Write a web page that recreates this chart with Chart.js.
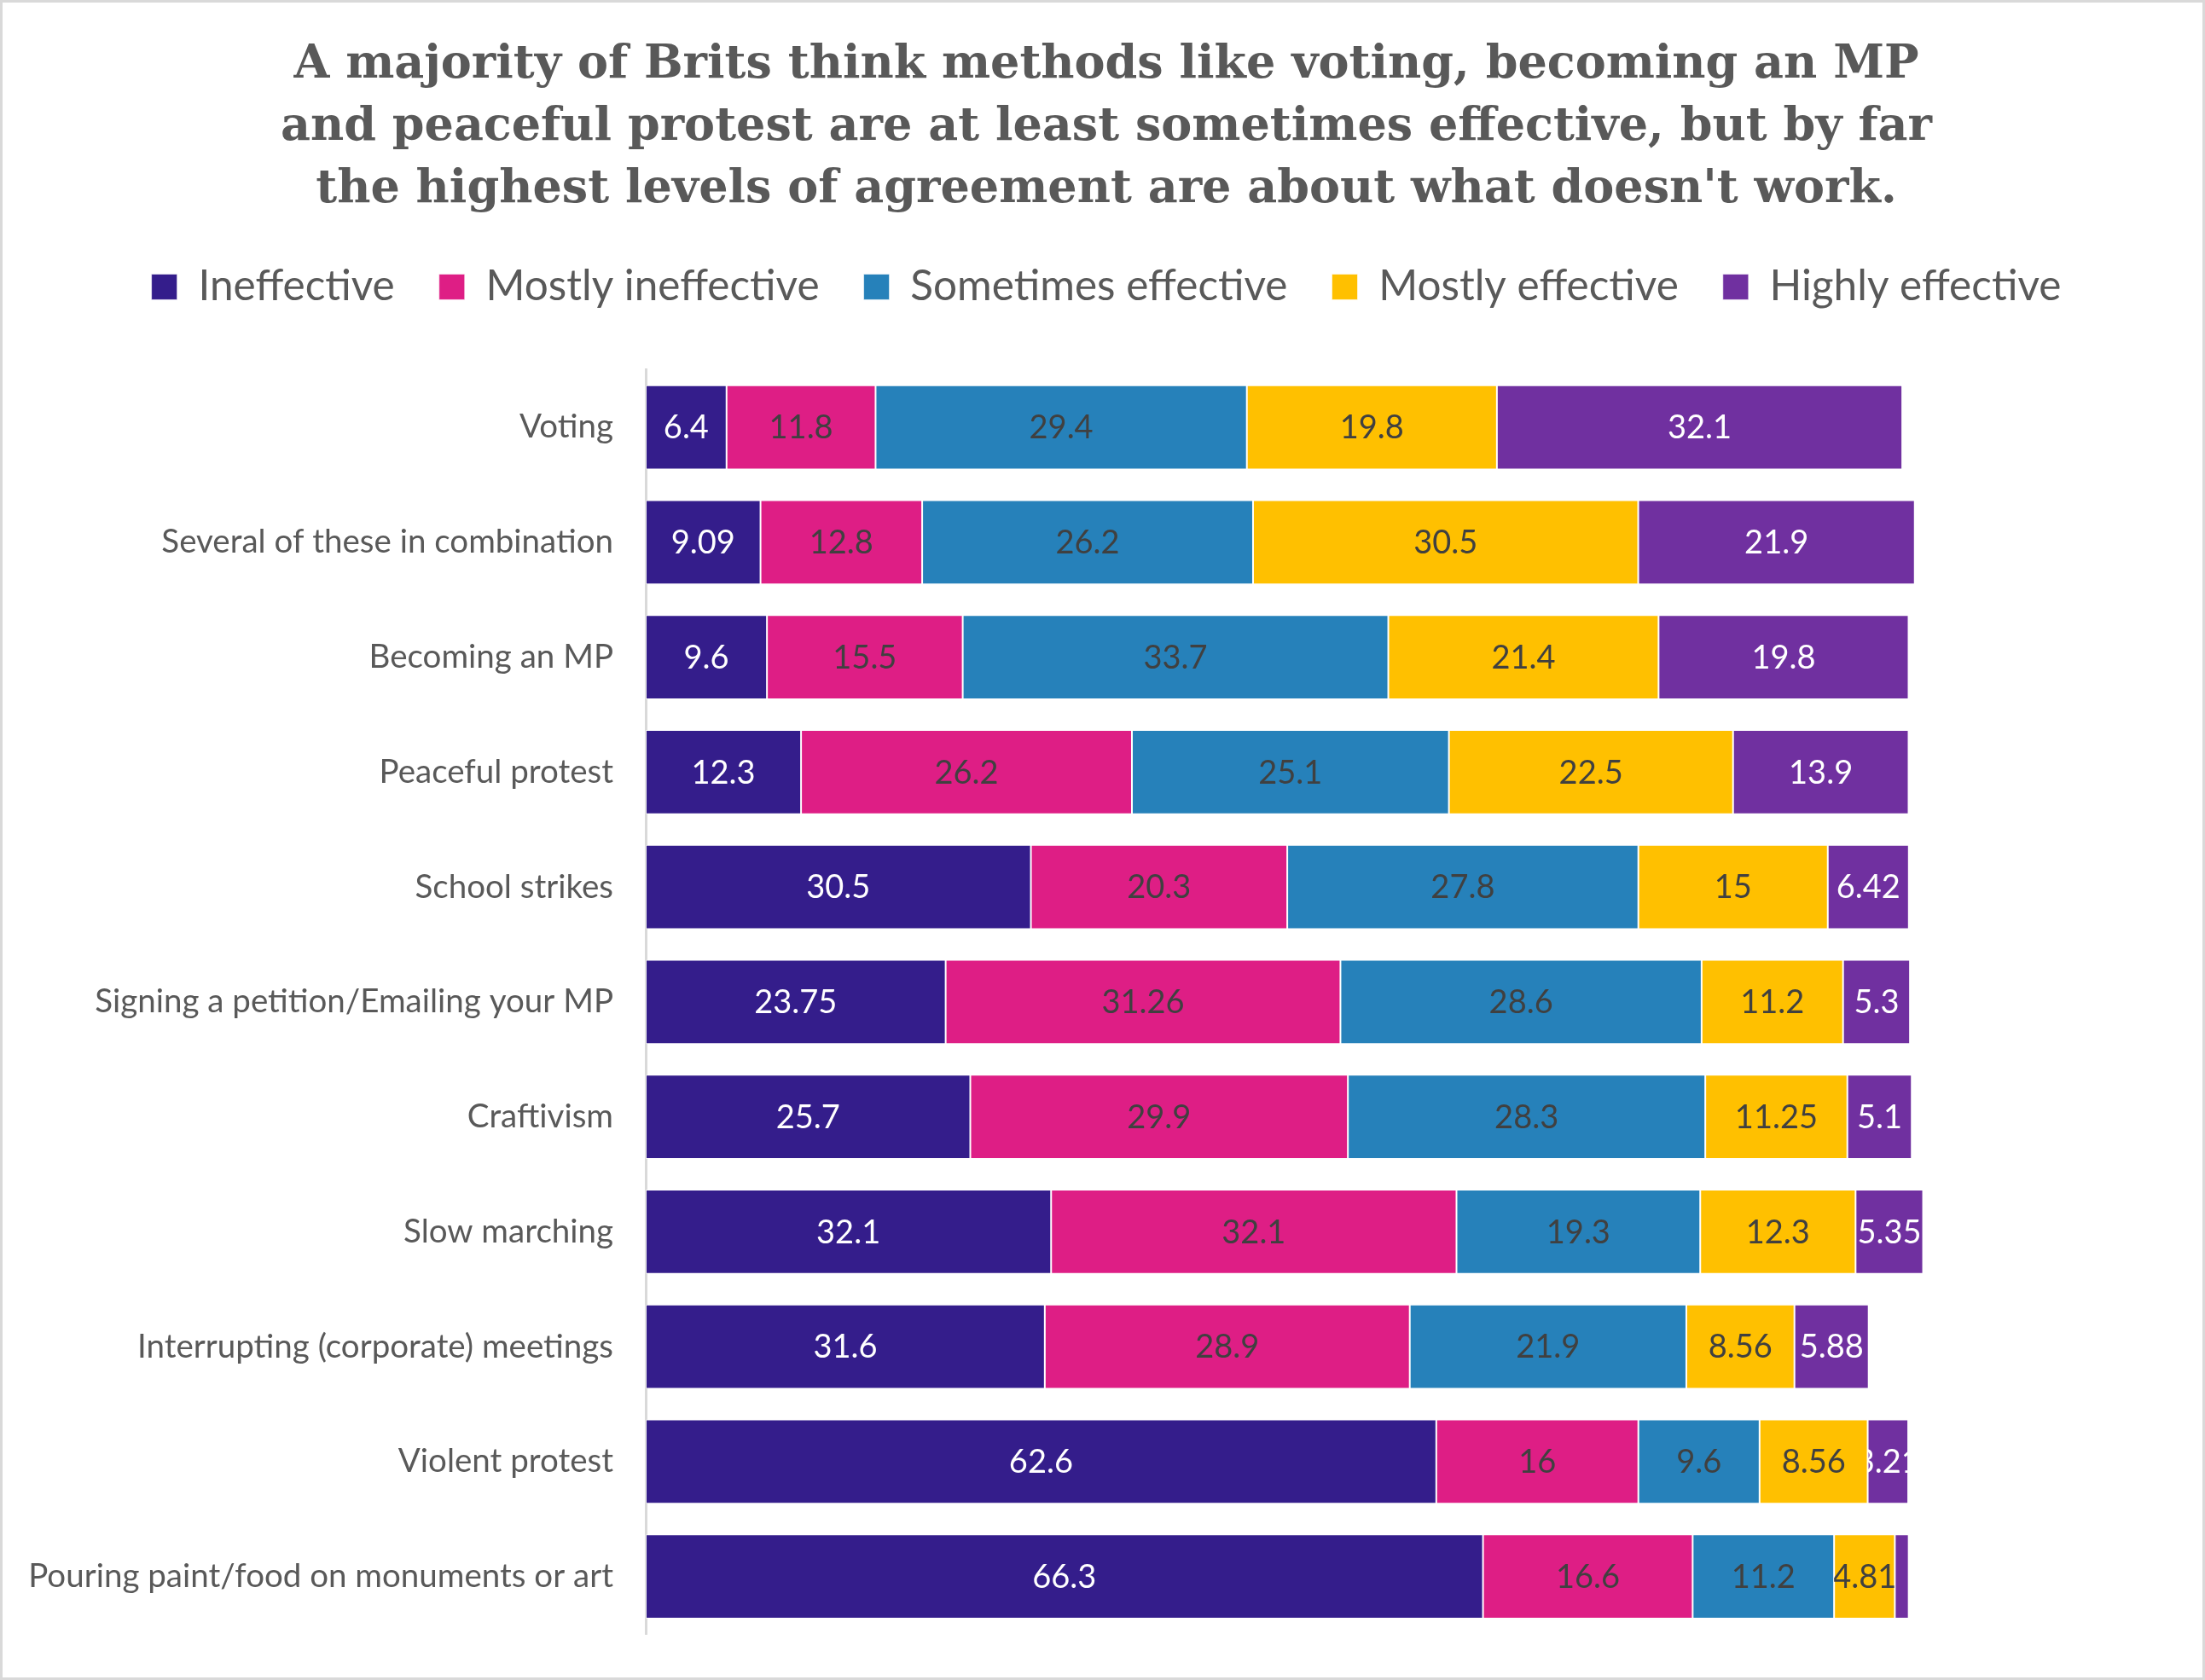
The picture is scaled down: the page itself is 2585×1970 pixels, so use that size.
<!DOCTYPE html>
<html>
<head>
<meta charset="utf-8">
<script src="https://cdn.jsdelivr.net/npm/chart.js@4"></script>
<style>
  html, body { margin: 0; padding: 0; background: #fff; }
  #wrap { width: 2585px; height: 1970px; box-sizing: border-box; border: 3px solid #d9d9d9; position: relative; }
</style>
</head>
<body>
<div id="wrap"><canvas id="canvas"></canvas></div>
<script>
const categories = [
    "Voting",
    "Several of these in combination",
    "Becoming an MP",
    "Peaceful protest",
    "School strikes",
    "Signing a petition/Emailing your MP",
    "Craftivism",
    "Slow marching",
    "Interrupting (corporate) meetings",
    "Violent protest",
    "Pouring paint/food on monuments or art"
];

const ineffective       = [6.4, 9.09, 9.6, 12.3, 30.5, 23.75, 25.7, 32.1, 31.6, 62.6, 66.3];
const mostlyIneffective = [11.8, 12.8, 15.5, 26.2, 20.3, 31.26, 29.9, 32.1, 28.9, 16, 16.6];
const sometimesEffective = [29.4, 26.2, 33.7, 25.1, 27.8, 28.6, 28.3, 19.3, 21.9, 9.6, 11.2];
const mostlyEffective   = [19.8, 30.5, 21.4, 22.5, 15, 11.2, 11.25, 12.3, 8.56, 8.56, 4.81];
const highlyEffective   = [32.1, 21.9, 19.8, 13.9, 6.42, 5.3, 5.1, 5.35, 5.88, 3.21, 1.1];

const seriesNames = ["Ineffective", "Mostly ineffective", "Sometimes effective", "Mostly effective", "Highly effective"];
const seriesColors = ["#341d8b", "#de1e85", "#2681ba", "#ffc000", "#7030a0"];
const labelColors = ["#ffffff", "#404040", "#404040", "#404040", "#ffffff"];

const titleLines = [
    "A majority of Brits think methods like voting, becoming an MP",
    "and peaceful protest are at least sometimes effective, but by far",
    "the highest levels of agreement are about what doesn't work."
];

const allSeries = [ineffective, mostlyIneffective, sometimesEffective, mostlyEffective, highlyEffective];

// value labels inside each segment, clipped to the bar like the original
const segmentLabels = {
    id: "segmentLabels",
    afterDatasetsDraw(chart) {
        const ctx = chart.ctx;
        chart.data.datasets.forEach((ds, di) => {
            const meta = chart.getDatasetMeta(di);
            meta.data.forEach((bar, i) => {
                const v = ds.data[i];
                if (v < 2) return;
                const p = bar.getProps(["x", "y", "base", "height"], true);
                const left = Math.min(p.x, p.base), right = Math.max(p.x, p.base);
                ctx.save();
                ctx.beginPath();
                ctx.rect(left, p.y - p.height / 2, right - left, p.height);
                ctx.clip();
                ctx.fillStyle = labelColors[di];
                ctx.font = "38px Lato";
                ctx.textAlign = "center";
                ctx.textBaseline = "middle";
                ctx.fillText(String(v), (left + right) / 2, p.y + 1);
                ctx.restore();
            });
        });
    }
};

const myChart = new Chart(document.getElementById("canvas").getContext("2d"), {
    type: "bar",
    data: {
        labels: categories,
        datasets: allSeries.map((d, k) => ({
            label: seriesNames[k],
            data: d,
            backgroundColor: seriesColors[k],
            borderColor: "rgba(255,255,255,0.6)",
            borderWidth: 1,
            borderSkipped: false,
            barPercentage: 0.733,
            categoryPercentage: 1
        }))
    },
    options: {
        indexAxis: "y",
        responsive: true,
        maintainAspectRatio: false,
        devicePixelRatio: 1,
        animation: false,
        layout: { padding: { left: 10, right: 1, top: 0, bottom: 51 } },
        scales: {
            x: {
                stacked: true,
                position: "top",
                min: 0,
                max: 123.2,
                ticks: { display: false },
                grid: { display: false },
                border: { display: false },
                afterFit(scale) { scale.height = 62.5; }
            },
            y: {
                stacked: true,
                grid: { display: false, drawTicks: false },
                border: { display: true, color: "#d9d9d9", width: 3 },
                ticks: {
                    color: "#595959",
                    padding: 38,
                    font: { family: "Lato", size: 38.5 }
                },
                afterFit(scale) {
                    scale.width = 744;
                    scale.paddingTop = 0;
                    scale.paddingBottom = 0;
                }
            }
        },
        plugins: {
            title: {
                display: true,
                text: titleLines,
                color: "#595959",
                padding: { top: 38, bottom: 0 },
                font: { family: "DejaVu Serif", size: 54, weight: "bold", lineHeight: 1.35 }
            },
            legend: {
                display: true,
                position: "top",
                labels: {
                    color: "#595959",
                    boxWidth: 30,
                    boxHeight: 30,
                    padding: 52,
                    font: { family: "Lato", size: 49.5 }
                }
            },
            tooltip: { enabled: false }
        }
    },
    plugins: [segmentLabels]
});
</script>
</body>
</html>
